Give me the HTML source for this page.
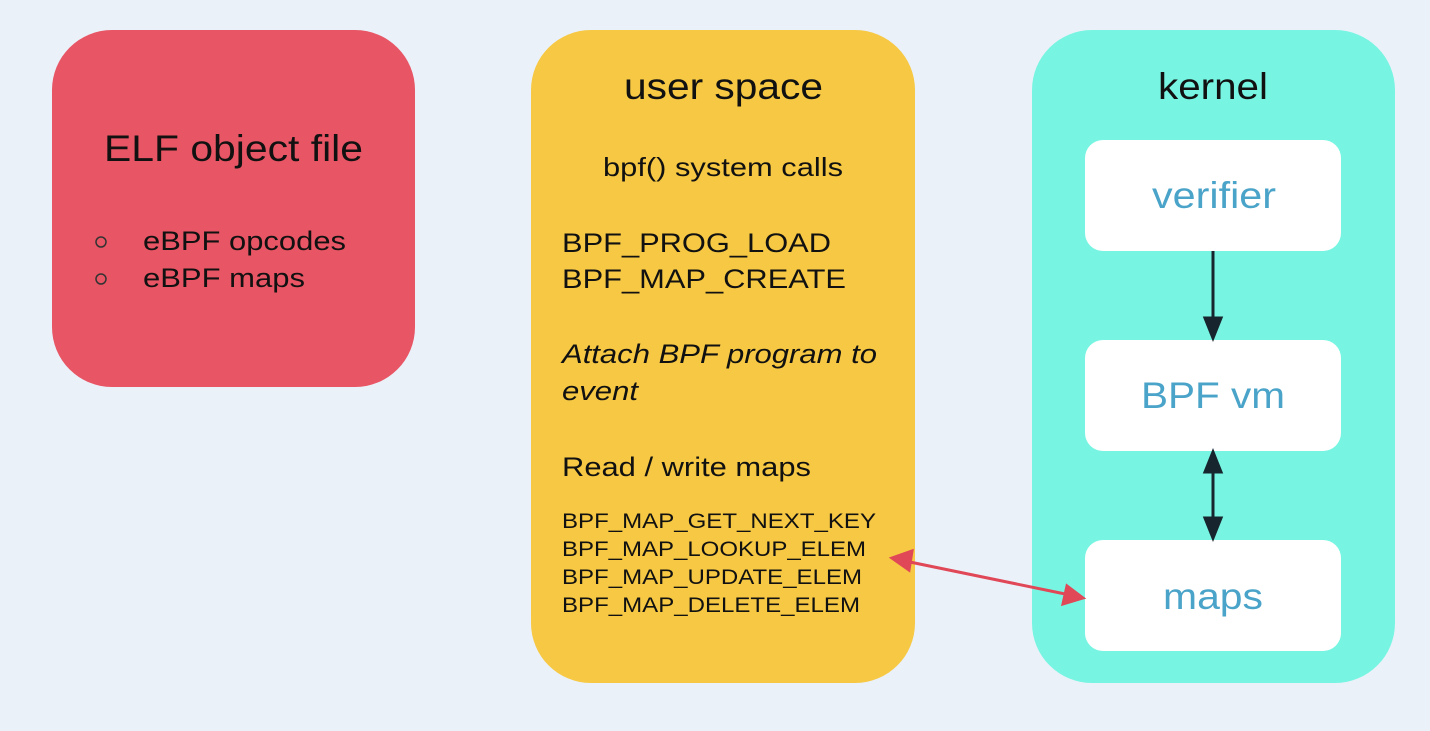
<!DOCTYPE html>
<html><head><style>body{margin:0;background:#ebf1f9}</style></head><body>
<svg width="1430" height="726" xmlns="http://www.w3.org/2000/svg" font-family="Liberation Sans, sans-serif">
<rect width="1430" height="726" fill="#ebf1f9"/>
<rect x="52" y="30" width="363" height="357" rx="60" fill="#e85564"/>
<text x="104" y="161" font-size="37" textLength="259" lengthAdjust="spacingAndGlyphs" fill="#111">ELF object file</text>
<circle cx="101" cy="242" r="5" fill="none" stroke="#333" stroke-width="1.5"/>
<circle cx="101" cy="279" r="5" fill="none" stroke="#333" stroke-width="1.5"/>
<text x="143" y="250" font-size="27" textLength="203" lengthAdjust="spacingAndGlyphs" fill="#111">eBPF opcodes</text>
<text x="143" y="287" font-size="27" textLength="162" lengthAdjust="spacingAndGlyphs" fill="#111">eBPF maps</text>

<rect x="531" y="30" width="384" height="653" rx="60" fill="#f6c843"/>
<text x="624" y="99" font-size="37" textLength="199" lengthAdjust="spacingAndGlyphs" fill="#111">user space</text>
<text x="603" y="176" font-size="26" textLength="240" lengthAdjust="spacingAndGlyphs" fill="#111">bpf() system calls</text>
<text x="562" y="252" font-size="27" textLength="269" lengthAdjust="spacingAndGlyphs" fill="#111">BPF_PROG_LOAD</text>
<text x="562" y="288" font-size="27" textLength="284" lengthAdjust="spacingAndGlyphs" fill="#111">BPF_MAP_CREATE</text>
<text x="562" y="363" font-size="27" font-style="italic" textLength="315" lengthAdjust="spacingAndGlyphs" fill="#111">Attach BPF program to</text>
<text x="562" y="400" font-size="27" font-style="italic" textLength="76" lengthAdjust="spacingAndGlyphs" fill="#111">event</text>
<text x="562" y="476" font-size="27" textLength="249" lengthAdjust="spacingAndGlyphs" fill="#111">Read / write maps</text>
<g font-size="21" fill="#111" lengthAdjust="spacingAndGlyphs">
<text x="562" y="528" textLength="314" lengthAdjust="spacingAndGlyphs">BPF_MAP_GET_NEXT_KEY</text>
<text x="562" y="556" textLength="304" lengthAdjust="spacingAndGlyphs">BPF_MAP_LOOKUP_ELEM</text>
<text x="562" y="584" textLength="300" lengthAdjust="spacingAndGlyphs">BPF_MAP_UPDATE_ELEM</text>
<text x="562" y="612" textLength="298" lengthAdjust="spacingAndGlyphs">BPF_MAP_DELETE_ELEM</text>
</g>

<rect x="1032" y="30" width="363" height="653" rx="60" fill="#77f5e2"/>
<text x="1158" y="99" font-size="37" textLength="110" lengthAdjust="spacingAndGlyphs" fill="#111">kernel</text>
<rect x="1085" y="140" width="256" height="111" rx="18" fill="#fff"/>
<rect x="1085" y="340" width="256" height="111" rx="18" fill="#fff"/>
<rect x="1085" y="540" width="256" height="111" rx="18" fill="#fff"/>
<g font-size="37" fill="#4aa3c8">
<text x="1152" y="208" textLength="124" lengthAdjust="spacingAndGlyphs">verifier</text>
<text x="1141" y="408" textLength="144" lengthAdjust="spacingAndGlyphs">BPF vm</text>
<text x="1163" y="609" textLength="100" lengthAdjust="spacingAndGlyphs">maps</text>
</g>
<g stroke="#17262e" stroke-width="3" fill="#17262e">
<line x1="1213" y1="251" x2="1213" y2="325"/>
<polygon points="1205,318 1221,318 1213,338"/>
<line x1="1213" y1="465" x2="1213" y2="525"/>
<polygon points="1205,472 1221,472 1213,452"/>
<polygon points="1205,518 1221,518 1213,538"/>
</g>
<g stroke="#e04858" stroke-width="3" fill="#e04858">
<line x1="905" y1="561" x2="1070" y2="595"/>
<polygon points="892,558 912,551 909,570"/>
<polygon points="1083,598 1063,604 1067,586"/>
</g>
</svg>
</body></html>
